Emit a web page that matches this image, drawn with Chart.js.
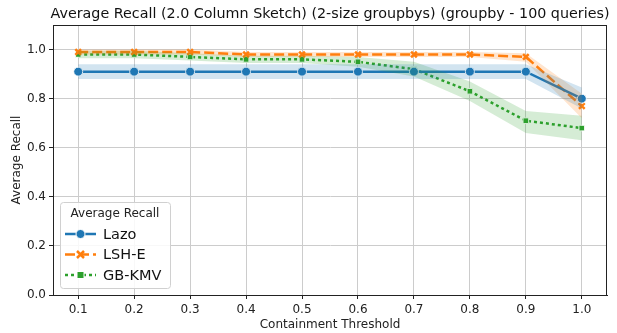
<!DOCTYPE html>
<html>
<head>
<meta charset="utf-8">
<script src="https://cdn.jsdelivr.net/npm/chart.js@4.4.1/dist/chart.umd.min.js"></script>
<style>
  html, body { margin: 0; padding: 0; background: #fff; }
  #wrap { width: 617px; height: 333px; }
</style>
</head>
<body>
<div id="wrap"><canvas id="grafico"></canvas></div>
<script>
// datos
const titulo = "Average Recall (2.0 Column Sketch) (2-size groupbys) (groupby - 100 queries)";
const umbrales = [0.1, 0.2, 0.3, 0.4, 0.5, 0.6, 0.7, 0.8, 0.9, 1.0];
const yTicks = [0.0, 0.2, 0.4, 0.6, 0.8, 1.0];

const lazo = [0.91, 0.91, 0.91, 0.91, 0.91, 0.91, 0.91, 0.91, 0.91, 0.80];
const lazoAlto = [0.94, 0.94, 0.94, 0.94, 0.94, 0.94, 0.94, 0.94, 0.94, 0.845];
const lazoBajo = [0.88, 0.88, 0.88, 0.88, 0.88, 0.88, 0.88, 0.88, 0.88, 0.76];

const lshe = [0.99, 0.99, 0.99, 0.98, 0.98, 0.98, 0.98, 0.98, 0.97, 0.77];
const lsheAlto = [1.0, 1.0, 1.0, 0.99, 0.99, 0.99, 0.99, 0.99, 0.985, 0.82];
const lsheBajo = [0.98, 0.98, 0.98, 0.97, 0.97, 0.97, 0.97, 0.97, 0.95, 0.72];

const gbkmv = [0.98, 0.98, 0.97, 0.96, 0.96, 0.95, 0.92, 0.83, 0.71, 0.68];
const gbkmvAlto = [0.995, 0.995, 0.985, 0.975, 0.975, 0.97, 0.95, 0.87, 0.75, 0.73];
const gbkmvBajo = [0.965, 0.965, 0.955, 0.945, 0.945, 0.93, 0.89, 0.79, 0.66, 0.63];

const pares = (ys) => umbrales.map((x, i) => ({ x: x, y: ys[i] }));

function banda(alto, bajo, color) {
  return [
    { data: pares(alto), borderWidth: 0, pointRadius: 0, fill: "+1", backgroundColor: color, tension: 0 },
    { data: pares(bajo), borderWidth: 0, pointRadius: 0, fill: false, tension: 0 },
  ];
}

const series = [
  { label: "Lazo", data: pares(lazo), borderColor: "#1f77b4", backgroundColor: "#1f77b4",
    pointStyle: "circle", pointRadius: 4.5, borderDash: [], pointBorderColor: "#fff", pointBorderWidth: 1 },
  { label: "LSH-E", data: pares(lshe), borderColor: "#ff7f0e", backgroundColor: "#ff7f0e",
    pointStyle: "crossRot", pointRadius: 4, borderDash: [10, 4], pointBorderColor: "#ff7f0e", pointBorderWidth: 2.5 },
  { label: "GB-KMV", data: pares(gbkmv), borderColor: "#2ca02c", backgroundColor: "#2ca02c",
    pointStyle: "rect", pointRadius: 4, borderDash: [3, 3], pointBorderColor: "#fff", pointBorderWidth: 1 },
];

const datasets = [
  ...banda(lazoAlto, lazoBajo, "rgba(31,119,180,0.2)"),
  ...banda(lsheAlto, lsheBajo, "rgba(255,127,14,0.2)"),
  ...banda(gbkmvAlto, gbkmvBajo, "rgba(44,160,44,0.2)"),
  ...series.map((s) => ({ ...s, borderWidth: 2.5, fill: false, tension: 0 })),
];

// marco y titulo centrado sobre el area del grafico
const marco = {
  id: "marco",
  afterDraw(chart) {
    const { ctx, chartArea: a } = chart;
    ctx.save();
    ctx.strokeStyle = "#222";
    ctx.lineWidth = 1;
    ctx.strokeRect(a.left + 0.5, a.top + 0.5, a.right - a.left - 1, a.bottom - a.top);
    ctx.fillStyle = "#111";
    ctx.font = "14.3px 'DejaVu Sans'";
    ctx.textAlign = "center";
    ctx.textBaseline = "middle";
    ctx.fillText(titulo, (a.left + a.right) / 2, a.top - 11);
    ctx.restore();
  },
};

// leyenda dentro del area, abajo a la izquierda
const leyenda = {
  id: "leyenda",
  afterDraw(chart) {
    const ctx = chart.ctx;
    const x0 = 60, y0 = 202, w = 110, h = 86;
    ctx.save();
    ctx.fillStyle = "rgba(255,255,255,0.85)";
    ctx.strokeStyle = "#d0d0d0";
    ctx.lineWidth = 1;
    ctx.beginPath();
    ctx.roundRect(x0 + 0.5, y0 + 0.5, w, h, 3);
    ctx.fill();
    ctx.stroke();
    ctx.fillStyle = "#222";
    ctx.font = "12px 'DejaVu Sans'";
    ctx.textAlign = "center";
    ctx.textBaseline = "middle";
    ctx.fillText("Average Recall", x0 + w / 2, y0 + 12);
    series.forEach((s, i) => {
      const y = y0 + 32 + i * 20.5;
      ctx.strokeStyle = s.borderColor;
      ctx.lineWidth = 2.5;
      ctx.setLineDash(s.borderDash);
      ctx.beginPath();
      ctx.moveTo(x0 + 5, y);
      ctx.lineTo(x0 + 36, y);
      ctx.stroke();
      ctx.setLineDash([]);
      ctx.fillStyle = s.backgroundColor;
      ctx.strokeStyle = s.pointBorderColor;
      ctx.lineWidth = s.pointBorderWidth;
      ctx.beginPath();
      if (s.pointStyle === "circle") {
        ctx.arc(x0 + 20.5, y, s.pointRadius, 0, Math.PI * 2);
        ctx.fill(); ctx.stroke();
      } else if (s.pointStyle === "rect") {
        ctx.rect(x0 + 20.5 - 3.5, y - 3.5, 7, 7);
        ctx.fill(); ctx.stroke();
      } else {
        ctx.moveTo(x0 + 17, y - 3.5); ctx.lineTo(x0 + 24, y + 3.5);
        ctx.moveTo(x0 + 24, y - 3.5); ctx.lineTo(x0 + 17, y + 3.5);
        ctx.stroke();
      }
      ctx.fillStyle = "#111";
      ctx.font = "14.5px 'DejaVu Sans'";
      ctx.textAlign = "left";
      ctx.fillText(s.label, x0 + 43, y + 1);
    });
    ctx.restore();
  },
};

Chart.defaults.font.family = "'DejaVu Sans', sans-serif";
Chart.defaults.color = "#222";

new Chart(document.getElementById("grafico"), {
  type: "line",
  data: { datasets: datasets },
  plugins: [marco, leyenda],
  options: {
    responsive: true,
    maintainAspectRatio: false,
    animation: false,
    layout: { padding: { left: 0, right: 10, top: 25, bottom: 0 } },
    plugins: {
      legend: { display: false },
      tooltip: { enabled: false },
      title: { display: false },
    },
    scales: {
      x: {
        type: "linear",
        min: 0.055,
        max: 1.045,
        afterBuildTicks: (s) => { s.ticks = umbrales.map((v) => ({ value: v })); },
        afterFit: (s) => { s.height = 38; },
        ticks: { font: { size: 12 }, padding: 4, callback: (v) => v.toFixed(1) },
        grid: { color: "#cccccc", tickColor: "#222", tickLength: 4 },
        border: { color: "#222", width: 1 },
        title: { display: true, text: "Containment Threshold", font: { size: 12 }, padding: { top: 0, bottom: 1 } },
      },
      y: {
        min: 0,
        max: 1.1,
        afterBuildTicks: (s) => { s.ticks = yTicks.map((v) => ({ value: v })); },
        afterFit: (s) => { s.width = 53; },
        ticks: { font: { size: 12 }, padding: 3, callback: (v) => v.toFixed(1) },
        grid: { color: "#cccccc", tickColor: "#222", tickLength: 4 },
        border: { color: "#222", width: 1 },
        title: { display: true, text: "Average Recall", font: { size: 12 }, padding: { top: 10, bottom: 4 } },
      },
    },
  },
});
</script>
</body>
</html>
